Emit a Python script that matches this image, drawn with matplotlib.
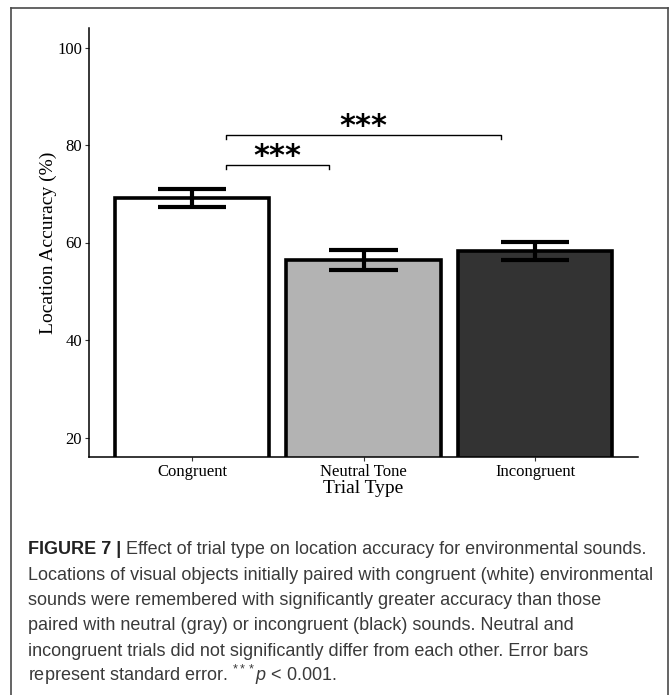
#!/usr/bin/env python
# -*- coding: utf-8 -*-

"""Bar chart of location accuracy by trial type, with caption"""

import matplotlib
matplotlib.use("Agg")
import matplotlib.pyplot as plt
from matplotlib.lines import Line2D

# data
trial_types = ["Congruent", "Neutral Tone", "Incongruent"]
accuracy = [69.1, 56.4, 58.3]
std_err = [1.8, 2.0, 1.9]
bar_colors = ["#ffffff", "#b3b3b3", "#333333"]

# significance brackets: (left x, right x, bracket height, label)
brackets = [(0.2, 0.8, 76.0, "***"), (0.2, 1.8, 82.1, "***")]

y_ticks = [20, 40, 60, 80, 100]

caption_head = "FIGURE 7 |"
caption_lines = [
    " Effect of trial type on location accuracy for environmental sounds.",
    "Locations of visual objects initially paired with congruent (white) environmental",
    "sounds were remembered with significantly greater accuracy than those",
    "paired with neutral (gray) or incongruent (black) sounds. Neutral and",
    "incongruent trials did not significantly differ from each other. Error bars",
    r"represent standard error. $^{***}\mathit{p}$ < 0.001.",
]

plt.rcParams["mathtext.fontset"] = "custom"
plt.rcParams["mathtext.rm"] = "Liberation Sans"
plt.rcParams["mathtext.it"] = "Liberation Sans:italic"

W, H = 670, 695
fig = plt.figure(figsize=(W / 100, H / 100), dpi=100)
ax = fig.add_axes([89 / W, 1 - 457 / H, (638 - 89) / W, (457 - 28) / H])

x = list(range(len(trial_types)))
ax.bar(x, accuracy, width=0.9, color=bar_colors, edgecolor="black",
       linewidth=2.6, zorder=2)

# error bars drawn as lines so the caps are 0.4 units wide
for xi, m, se in zip(x, accuracy, std_err):
    ax.vlines(xi, m - se, m + se, color="black", linewidth=3.0, zorder=3)
    ax.hlines([m - se, m + se], xi - 0.2, xi + 0.2, color="black",
              linewidth=3.0, zorder=3)

for x0, x1, h, label in brackets:
    ax.plot([x0, x0, x1, x1], [h - 0.9, h, h, h - 0.9], color="black",
            linewidth=1.0, zorder=3)
    ax.text((x0 + x1) / 2, h - 0.1, label, ha="center", va="baseline",
            fontsize=22, family="DejaVu Sans", weight="bold")

ax.set_xlim(-0.6, 2.6)
ax.set_ylim(16, 104)
ax.set_xticks(x)
ax.set_xticklabels(trial_types, family="Liberation Serif", fontsize=12)
ax.set_yticks(y_ticks)
ax.set_yticklabels([str(t) for t in y_ticks], family="Liberation Serif",
                   fontsize=12)
ax.tick_params(length=3, width=0.8, color="#333333", pad=2)
ax.set_xlabel("Trial Type", family="Liberation Serif", fontsize=14, labelpad=0)
ax.set_ylabel("Location Accuracy (%)", family="Liberation Serif", fontsize=14,
              labelpad=0)
for side in ("top", "right"):
    ax.spines[side].set_visible(False)
for side in ("left", "bottom"):
    ax.spines[side].set_linewidth(1.1)

# frame around the figure panel
frame_col = "#4a4a4a"
fig.add_artist(Line2D([11 / W, 11 / W], [0, 1 - 8 / H], color=frame_col, lw=1.2))
fig.add_artist(Line2D([668 / W, 668 / W], [0, 1 - 8 / H], color=frame_col, lw=1.2))
fig.add_artist(Line2D([11 / W, 668 / W], [1 - 8 / H, 1 - 8 / H], color=frame_col, lw=1.2))

# caption
cap_col = "#3a3a3a"
cap_size = 13
baselines = [554, 580, 605, 630, 656, 681]
head = fig.text(28 / W, 1 - baselines[0] / H, caption_head, fontsize=cap_size,
                family="Liberation Sans", weight="bold", color="#222222",
                va="baseline")
plt.annotate(caption_lines[0], xy=(1, 0), xycoords=head, xytext=(0, 0),
             textcoords="offset points", fontsize=cap_size,
             family="Liberation Sans", color=cap_col, va="bottom", ha="left")
for line, b in zip(caption_lines[1:], baselines[1:]):
    fig.text(28 / W, 1 - b / H, line, fontsize=cap_size,
             family="Liberation Sans", color=cap_col, va="baseline")

fig.savefig("out.png", dpi=100)
